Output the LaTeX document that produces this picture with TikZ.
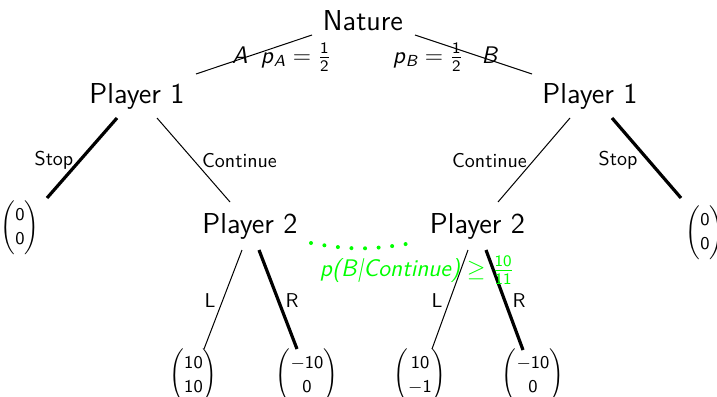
\documentclass[tikz,border=0pt]{standalone}
\usepackage{amsmath}
\usepackage{exscale}
\usetikzlibrary{calc}
\renewcommand{\familydefault}{\sfdefault}
\newcommand{\sv}[1]{\textsl{#1}}
\newcommand{\sn}[1]{\textsf{#1}}
\tikzset{
  mainnode/.style={font=\fontsize{14.4}{17}\selectfont\sffamily, anchor=base, inner sep=0pt},
  edgelbl/.style={font=\fontsize{10}{12}\selectfont\sffamily, anchor=base, inner sep=0pt},
  mathlbl/.style={font=\fontsize{12}{14}\selectfont\sffamily, anchor=base, inner sep=0pt},
  leafnode/.style={font=\fontsize{9}{11}\selectfont\sffamily, inner sep=0pt},
  thinedge/.style={line width=0.5pt},
  thickedge/.style={line width=1.6pt},
  belief/.style={green, line width=2pt, line cap=round, dash pattern=on 0pt off 6.8pt}
}
\begin{document}
\begin{tikzpicture}[x=0.5pt, y=-0.5pt]
\useasboundingbox[fill=white] (0,0) rectangle (717,396);
% main nodes
\node[mainnode] (N) at (363,30) {Nature};
\node[mainnode] (P1L) at (137,103) {Player 1};
\node[mainnode] (P1R) at (590,103) {Player 1};
\node[mainnode] (P2L) at (250,233) {Player 2};
\node[mainnode] (P2R) at (477.5,233) {Player 2};
% leaves
\node[leafnode] (SL) at (20,228) {$\dbinom{\sn{0}}{\sn{0}}$};
\node[leafnode] (SR) at (705,233) {$\dbinom{\sn{0}}{\sn{0}}$};
\node[leafnode] (LL) at (193.5,376) {$\dbinom{\sn{10}}{\sn{10}}$};
\node[leafnode] (LR) at (307,376) {$\dbinom{-\sn{10}}{\sn{0}}$};
\node[leafnode] (RL) at (420,376) {$\dbinom{\sn{10}}{-\sn{1}}$};
\node[leafnode] (RR) at (533,376) {$\dbinom{-\sn{10}}{\sn{0}}$};
% edges
\draw[thinedge] ($(N.base)+(-51,5)$) -- ($(P1L.base)+(59,-29)$);
\draw[thinedge] ($(N.base)+(52,5)$) -- ($(P1R.base)+(-58,-29)$);
\draw[thickedge] ($(P1L.base)+(-20,15)$) -- ($(SL)+(27,-30)$);
\draw[thinedge] ($(P1L.base)+(20,15)$) -- ($(P2L.base)+(-20,-31)$);
\draw[thinedge] ($(P1R.base)+(-20,15)$) -- ($(P2R.base)+(20.5,-31)$);
\draw[thickedge] ($(P1R.base)+(22,15)$) -- ($(SR)+(-24,-35)$);
\draw[thinedge] ($(P2L.base)+(-8,17)$) -- ($(LL)+(10.5,-27)$);
\draw[thickedge] ($(P2L.base)+(9,17)$) -- ($(LR)+(-10,-27)$);
\draw[thinedge] ($(P2R.base)+(-9.5,17)$) -- ($(RL)+(12,-27)$);
\draw[thickedge] ($(P2R.base)+(8.5,17)$) -- ($(RR)+(-10,-26)$);
% labels
\node[mathlbl] (lA) at (240,63) {\sv{A}};
\node[mathlbl] (lpA) at (296,63) {\sv{p}$_{\sv{A}}=\frac{\sn{1}}{\sn{2}}$};
\node[mathlbl] (lpB) at (428,63) {\sv{p}$_{\sv{B}}=\frac{\sn{1}}{\sn{2}}$};
\node[mathlbl] (lB) at (490,63) {\sv{B}};
\node[edgelbl] (s1) at (54,165) {Stop};
\node[edgelbl] (c1) at (239.5,167) {Continue};
\node[edgelbl] (c2) at (489.5,167) {Continue};
\node[edgelbl] (s2) at (618,165) {Stop};
\node[edgelbl] (l1) at (210,307) {L};
\node[edgelbl] (r1) at (292,307) {R};
\node[edgelbl] (l2) at (437,307) {L};
\node[edgelbl] (r2) at (519,307) {R};
% information set
\draw[belief] ($(P2L.base)+(61,10)$) to[bend right=10] ($(P2R.base)+(-71.5,11)$);
\node[mathlbl, text=green] (bel) at (417,276) {$\mbox{\sv{p(B|Continue)}}\geq\frac{\sn{10}}{\sn{11}}$};
\end{tikzpicture}
\end{document}
